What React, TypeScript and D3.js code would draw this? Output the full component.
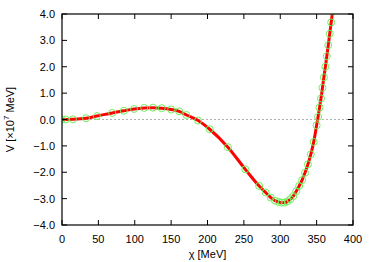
import { useEffect, useRef } from "react";
import * as d3 from "d3";

// chi [MeV] and V [x10^7 MeV]
const chi = [0, 5, 15, 33, 48, 69, 85, 99, 113, 125, 137, 150, 161, 171, 187, 203, 228, 252, 271, 280, 287, 293, 298, 302, 306, 310, 314, 318, 322, 326, 330, 334, 338, 342, 346, 350, 352, 354, 356, 358, 360, 362, 364, 366, 368, 370, 372];
const pot = [0, 0, 0.01, 0.05, 0.13, 0.25, 0.33, 0.4, 0.44, 0.45, 0.43, 0.38, 0.31, 0.17, -0.04, -0.37, -1.05, -1.89, -2.52, -2.77, -2.96, -3.08, -3.13, -3.15, -3.15, -3.1, -3.02, -2.9, -2.72, -2.52, -2.3, -2.02, -1.7, -1.32, -0.85, -0.22, 0.1, 0.45, 0.8, 1.2, 1.6, 2.0, 2.4, 2.82, 3.25, 3.68, 4.1];

const xTicks = [0, 50, 100, 150, 200, 250, 300, 350, 400];
const yTicks = [-4, -3, -2, -1, 0, 1, 2, 3, 4];

const App = () => {
  const svgRef = useRef<SVGSVGElement>(null);

  useEffect(() => {
    const svg = d3.select(svgRef.current);
    svg.selectAll("*").remove();

    const width = 374;
    const height = 262;
    const margin = { top: 14, right: 21, bottom: 37, left: 62 };
    const font = "Liberation Sans, Arial, sans-serif";

    const x = d3.scaleLinear().domain([0, 400]).range([margin.left, width - margin.right]);
    const y = d3.scaleLinear().domain([-4, 4]).range([height - margin.bottom, margin.top]);

    const data = chi.map((c, i) => ({ c, v: pot[i] }));

    const defs = svg.append("defs");
    defs.append("clipPath").attr("id", "plotclip")
      .append("rect")
      .attr("x", margin.left)
      .attr("y", margin.top)
      .attr("width", width - margin.left - margin.right)
      .attr("height", height - margin.top - margin.bottom);

    // zero line
    svg.append("line")
      .attr("x1", x(0)).attr("x2", x(400))
      .attr("y1", y(0)).attr("y2", y(0))
      .attr("stroke", "#b0b0b0")
      .attr("stroke-width", 1)
      .attr("stroke-dasharray", "2,2");

    const g = svg.append("g").attr("clip-path", "url(#plotclip)");

    const line = d3.line<{ c: number; v: number }>()
      .x(d => x(d.c))
      .y(d => y(d.v))
      .curve(d3.curveMonotoneX);

    g.append("path")
      .datum(data)
      .attr("d", line)
      .attr("fill", "none")
      .attr("stroke", "#ff0000")
      .attr("stroke-width", 3);

    // green open markers drawn over the red curve
    g.selectAll("circle")
      .data(data)
      .enter()
      .append("circle")
      .attr("cx", d => x(d.c))
      .attr("cy", d => y(d.v))
      .attr("r", 3.5)
      .attr("fill", "none")
      .attr("stroke", "#6cf05a")
      .attr("stroke-width", 1);

    // ticks, all four sides, pointing inward
    const tl = 5;
    xTicks.forEach(t => {
      svg.append("line")
        .attr("x1", x(t)).attr("x2", x(t))
        .attr("y1", y(-4)).attr("y2", y(-4) - tl)
        .attr("stroke", "#000");
      svg.append("line")
        .attr("x1", x(t)).attr("x2", x(t))
        .attr("y1", y(4)).attr("y2", y(4) + tl)
        .attr("stroke", "#000");
      svg.append("text")
        .attr("x", x(t))
        .attr("y", y(-4) + 18)
        .attr("text-anchor", "middle")
        .attr("font-family", font)
        .attr("font-size", "11px")
        .text(t);
    });
    yTicks.forEach(t => {
      svg.append("line")
        .attr("x1", x(0)).attr("x2", x(0) + tl)
        .attr("y1", y(t)).attr("y2", y(t))
        .attr("stroke", "#000");
      svg.append("line")
        .attr("x1", x(400)).attr("x2", x(400) - tl)
        .attr("y1", y(t)).attr("y2", y(t))
        .attr("stroke", "#000");
      svg.append("text")
        .attr("x", x(0) - 7)
        .attr("y", y(t) + 4)
        .attr("text-anchor", "end")
        .attr("font-family", font)
        .attr("font-size", "11px")
        .text(d3.format(".1f")(t));
    });

    // frame
    svg.append("rect")
      .attr("x", x(0))
      .attr("y", y(4))
      .attr("width", x(400) - x(0))
      .attr("height", y(-4) - y(4))
      .attr("fill", "none")
      .attr("stroke", "#000")
      .attr("stroke-width", 1.2);

    // axis labels
    svg.append("text")
      .attr("x", (x(0) + x(400)) / 2)
      .attr("y", height - 4)
      .attr("text-anchor", "middle")
      .attr("font-family", font)
      .attr("font-size", "11px")
      .text("χ [MeV]");

    const yl = svg.append("text")
      .attr("transform", `translate(14,${(y(4) + y(-4)) / 2}) rotate(-90)`)
      .attr("text-anchor", "middle")
      .attr("font-family", font)
      .attr("font-size", "11px");
    yl.append("tspan").text("V [×10");
    yl.append("tspan").attr("font-size", "8px").attr("dy", -5).text("7");
    yl.append("tspan").attr("dy", 5).text(" MeV]");
  }, []);

  return (
    <svg
      ref={svgRef}
      width={374}
      height={262}
      style={{ position: "absolute", left: 0, top: 0, background: "#fff" }}
    />
  );
};

export default App;
